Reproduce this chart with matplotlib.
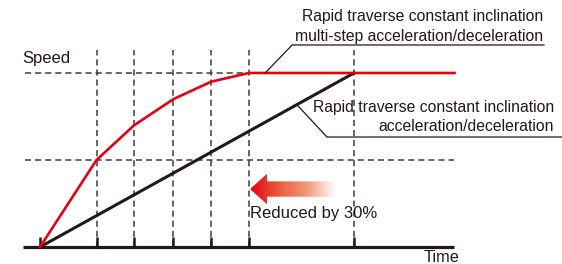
import numpy as np
import matplotlib

matplotlib.use("Agg")
import matplotlib.pyplot as plt
from matplotlib.colors import LinearSegmentedColormap
from matplotlib.patches import Polygon

plt.rcParams["font.family"] = ["Liberation Sans", "DejaVu Sans"]

# --- data (time in arbitrary units, speed normalised to max = 1) ---
time_multi = [0, 1.8, 3.0, 4.25, 5.45, 6.65, 13.2]
speed_multi = [0, 0.5, 0.70, 0.85, 0.95, 1.0, 1.0]
time_linear = [0, 10]
speed_linear = [0, 1]
grid_times = time_multi[1:6] + [time_linear[1]]
grid_speeds = [0.5, 1.0]
T_START, T_END = -0.55, 13.2

TXT = "#231815"
GRID = "#3e3a39"
RED = "#e60012"
FS = 11.3

fig = plt.figure(figsize=(5.62, 2.64), dpi=100)
ax = fig.add_axes([0, 0, 1, 1])
ax.axis("off")

# dashed guide lines
for t in grid_times:
    ax.plot([t, t], [0, 1.132], color=GRID, lw=1.1, ls=(0, (4, 2.6)), zorder=1)
ax.plot([T_START + 0.08, time_multi[5]], [grid_speeds[1]] * 2, color=GRID, lw=1.1,
        ls=(0, (4, 2.6)), zorder=1)
ax.plot([T_START + 0.08, T_END], [grid_speeds[0]] * 2, color=GRID, lw=1.1,
        ls=(0, (4, 2.6)), zorder=1)

# time axis with ticks
ax.plot([T_START, T_END], [0, 0], color=TXT, lw=2.3, solid_capstyle="butt", zorder=3)
for t in [0] + grid_times:
    ax.plot([t, t], [0, 0.055], color=TXT, lw=1.8, solid_capstyle="butt", zorder=3)

# curves
ax.plot(time_linear, speed_linear, color=TXT, lw=2.2, zorder=4)
ax.plot(time_multi, speed_multi, color=RED, lw=1.9, zorder=5)

# gradient arrow "reduced by 30%"
tip_t, tip_v = 6.69, 0.333
head_t, end_t = 7.23, 9.4
hh, sh = 0.088, 0.044
arrow_xy = [(tip_t, tip_v), (head_t, tip_v + hh), (head_t, tip_v + sh),
            (end_t, tip_v + sh), (end_t, tip_v - sh), (head_t, tip_v - sh),
            (head_t, tip_v - hh)]
poly = Polygon(arrow_xy, closed=True, facecolor="none", edgecolor="none")
ax.add_patch(poly)
cmap = LinearSegmentedColormap.from_list(
    "fade", [RED, "#ec5a3c", "#f29a7c", "#ffffff"])
grad = np.linspace(0, 1, 256).reshape(1, -1)
img = ax.imshow(grad, cmap=cmap, aspect="auto",
                extent=(tip_t, end_t, tip_v - hh, tip_v + hh), zorder=2)
img.set_clip_path(poly)
ax.set_xlim(-1.274, 16.624)
ax.set_ylim(-0.0977, 1.4195)

# labels
ax.text(-0.57, 1.086, "Speed", fontsize=12, color=TXT, va="center", ha="left")
ax.text(12.23, -0.063, "Time", fontsize=11.7, color=TXT, va="center", ha="left")
ax.text(6.7, 0.19, "Reduced by 30%", fontsize=12, color=TXT, va="center", ha="left")

ax.text(16.02, 1.322, "Rapid traverse constant inclination", fontsize=FS,
        color=TXT, va="center", ha="right")
ax.text(16.02, 1.207, "multi-step acceleration/deceleration", fontsize=FS,
        color=TXT, va="center", ha="right")
ax.plot([7.17, 8.03, 16.05], [1.0, 1.161, 1.161], color=TXT, lw=0.9, zorder=6)

ax.text(16.37, 0.799, "Rapid traverse constant inclination", fontsize=FS,
        color=TXT, va="center", ha="right")
ax.text(16.37, 0.695, "acceleration/deceleration", fontsize=FS,
        color=TXT, va="center", ha="right")
ax.plot([8.18, 9.14, 16.62], [0.818, 0.632, 0.632], color=TXT, lw=0.9, zorder=6)

fig.savefig("out.png", dpi=100)
